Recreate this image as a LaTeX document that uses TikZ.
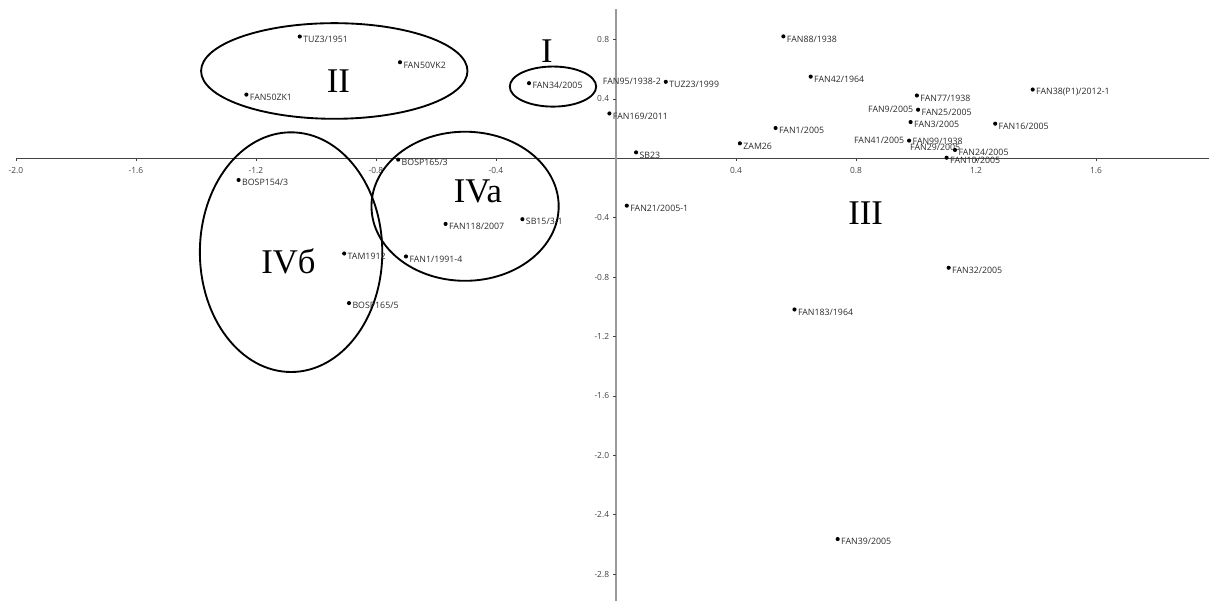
\documentclass[tikz,border=0pt]{standalone}
\usepackage{fontspec}
\setmainfont{Liberation Serif}
\newfontfamily\plotfont{Open Sans}
\usetikzlibrary{positioning}
\definecolor{axisgray}{HTML}{9A9A9A}
\definecolor{axisdark}{HTML}{444444}
\definecolor{txtgray}{HTML}{2A2A2A}

\begin{document}
\begin{tikzpicture}[x=225pt,y=111.375pt]
    \tikzstyle{dot} = [circle, fill=black, inner sep=0pt, minimum size=3.1pt]
    \tikzstyle{lbl} = [inner sep=0.4pt, text=txtgray, font=\plotfont\fontsize{6.6}{7}\selectfont]
    \tikzstyle{grp} = [inner sep=0pt, font=\fontsize{26}{28}\selectfont]
    \tikzstyle{cluster} = [line width=1.4pt]
    \tikzstyle{ticklbl} = [inner sep=0pt, text=axisdark, font=\plotfont\fontsize{6.3}{7}\selectfont]
    \useasboundingbox (-2.0533,-2.981) rectangle (1.9767,1.066);

    % axes
    \draw[axisdark, line width=0.75pt] (-2.0,0) -- (1.9767,0);
    \draw[axisgray, line width=1.5pt] (0,1.003) -- (0,-2.981);
    \foreach \x [count=\i] in {-2.0,-1.6,-1.2,-0.8,-0.4,0.4,0.8,1.2,1.6} {
        \draw[axisdark, line width=0.6pt] (\x,0) -- ++(0,-2.25pt);
        \node[ticklbl, yshift=-9pt] (xt\i) at (\x,0) {\x};
    }
    \foreach \y [count=\i] in {0.8,0.4,-0.4,-0.8,-1.2,-1.6,-2.0,-2.4,-2.8} {
        \draw[axisdark, line width=0.6pt] (0,\y) -- ++(-2.6pt,0);
        \node[ticklbl, anchor=east, xshift=-5pt] (yt\i) at (0,\y) {\y};
    }

    % clusters
    \draw[cluster] (-0.210,0.483) ellipse [x radius=0.144, y radius=0.135];
    \draw[cluster] (-0.939,0.588) ellipse [x radius=0.444, y radius=0.322];
    \draw[cluster] (-0.503,-0.323) ellipse [x radius=0.312, y radius=0.502];
    \draw[cluster] (-1.083,-0.632) ellipse [x radius=0.304, y radius=0.807];
    \node[grp] (g1) at (-0.230,0.722) {I};
    \node[grp] (g2) at (-0.925,0.520) {II};
    \node[grp] (g3) at (0.832,-0.372) {III};
    \node[grp] (g4a) at (-0.460,-0.226) {IVa};
    \node[grp] (g4b) at (-1.092,-0.695) {IVб};

    % samples
    \node[dot] (tuz3) at (-1.054,0.820) {};
    \node[lbl, right=0.3pt of tuz3, yshift=-2pt] (tuz3t) {TUZ3/1951};
    \node[dot] (fan50vk2) at (-0.720,0.647) {};
    \node[lbl, right=0.3pt of fan50vk2, yshift=-2pt] (fan50vk2t) {FAN50VK2};
    \node[dot] (fan50zk1) at (-1.232,0.429) {};
    \node[lbl, right=0.3pt of fan50zk1, yshift=-2pt] (fan50zk1t) {FAN50ZK1};
    \node[dot] (fan34) at (-0.290,0.506) {};
    \node[lbl, right=0.3pt of fan34, yshift=-2pt] (fan34t) {FAN34/2005};
    \node[dot] (tuz23) at (0.166,0.515) {};
    \node[lbl, right=0.3pt of tuz23, yshift=-2pt] (tuz23t) {TUZ23/1999};
    \node[lbl, left=1.4pt of tuz23] (fan95t) {FAN95/1938-2};
    \node[dot] (fan169) at (-0.022,0.302) {};
    \node[lbl, right=0.3pt of fan169, yshift=-2pt] (fan169t) {FAN169/2011};
    \node[dot] (sb23) at (0.067,0.040) {};
    \node[lbl, right=0.3pt of sb23, yshift=-2pt] (sb23t) {SB23};
    \node[dot] (fan88) at (0.558,0.821) {};
    \node[lbl, right=0.3pt of fan88, yshift=-2pt] (fan88t) {FAN88/1938};
    \node[dot] (fan42) at (0.649,0.550) {};
    \node[lbl, right=0.3pt of fan42, yshift=-2pt] (fan42t) {FAN42/1964};
    \node[dot] (fan77) at (1.003,0.423) {};
    \node[lbl, right=0.3pt of fan77, yshift=-2pt] (fan77t) {FAN77/1938};
    \node[dot] (fan38) at (1.389,0.463) {};
    \node[lbl, right=0.3pt of fan38, yshift=-2pt] (fan38t) {FAN38(P1)/2012-1};
    \node[dot] (fan25) at (1.007,0.327) {};
    \node[lbl, right=0.3pt of fan25, yshift=-2pt] (fan25t) {FAN25/2005};
    \node[lbl, left=1.4pt of fan25] (fan9t) {FAN9/2005};
    \node[dot] (fan3) at (0.982,0.244) {};
    \node[lbl, right=0.3pt of fan3, yshift=-2pt] (fan3t) {FAN3/2005};
    \node[dot] (fan16) at (1.264,0.233) {};
    \node[lbl, right=0.3pt of fan16, yshift=-2pt] (fan16t) {FAN16/2005};
    \node[dot] (fan1) at (0.532,0.204) {};
    \node[lbl, right=0.3pt of fan1, yshift=-2pt] (fan1t) {FAN1/2005};
    \node[dot] (zam26) at (0.413,0.101) {};
    \node[lbl, right=0.3pt of zam26, yshift=-2pt] (zam26t) {ZAM26};
    \node[dot] (fan99) at (0.977,0.119) {};
    \node[lbl, right=0.3pt of fan99, yshift=-0.5pt] (fan99t) {FAN99/1938};
    \node[lbl, left=1.4pt of fan99] (fan41t) {FAN41/2005};
    \node[lbl, right=-1.5pt of fan99, yshift=-4.8pt] (fan29t) {FAN29/2005};
    \node[dot] (fan24) at (1.130,0.056) {};
    \node[lbl, right=0.3pt of fan24, yshift=-2pt] (fan24t) {FAN24/2005};
    \node[dot] (fan10) at (1.102,0.004) {};
    \node[lbl, right=0.3pt of fan10, yshift=-2pt] (fan10t) {FAN10/2005};
    \node[dot] (bosp1653) at (-0.726,-0.009) {};
    \node[lbl, right=0.3pt of bosp1653, yshift=-2pt] (bosp1653t) {BOSP165/3};
    \node[dot] (bosp1543) at (-1.258,-0.146) {};
    \node[lbl, right=0.3pt of bosp1543, yshift=-2pt] (bosp1543t) {BOSP154/3};
    \node[dot] (fan21) at (0.036,-0.319) {};
    \node[lbl, right=0.3pt of fan21, yshift=-2pt] (fan21t) {FAN21/2005-1};
    \node[dot] (fan118) at (-0.568,-0.442) {};
    \node[lbl, right=0.3pt of fan118, yshift=-2pt] (fan118t) {FAN118/2007};
    \node[dot] (sb15) at (-0.312,-0.410) {};
    \node[lbl, right=0.3pt of sb15, yshift=-2pt] (sb15t) {SB15/3-1};
    \node[dot] (tam1912) at (-0.906,-0.641) {};
    \node[lbl, right=0.3pt of tam1912, yshift=-2pt] (tam1912t) {TAM1912};
    \node[dot] (fan1991) at (-0.700,-0.661) {};
    \node[lbl, right=0.3pt of fan1991, yshift=-2pt] (fan1991t) {FAN1/1991-4};
    \node[dot] (bosp1655) at (-0.890,-0.975) {};
    \node[lbl, right=0.3pt of bosp1655, yshift=-2pt] (bosp1655t) {BOSP165/5};
    \node[dot] (fan32) at (1.109,-0.737) {};
    \node[lbl, right=0.3pt of fan32, yshift=-2pt] (fan32t) {FAN32/2005};
    \node[dot] (fan183) at (0.595,-1.018) {};
    \node[lbl, right=0.3pt of fan183, yshift=-2pt] (fan183t) {FAN183/1964};
    \node[dot] (fan39) at (0.739,-2.564) {};
    \node[lbl, right=0.3pt of fan39, yshift=-2pt] (fan39t) {FAN39/2005};
\end{tikzpicture}
\end{document}
